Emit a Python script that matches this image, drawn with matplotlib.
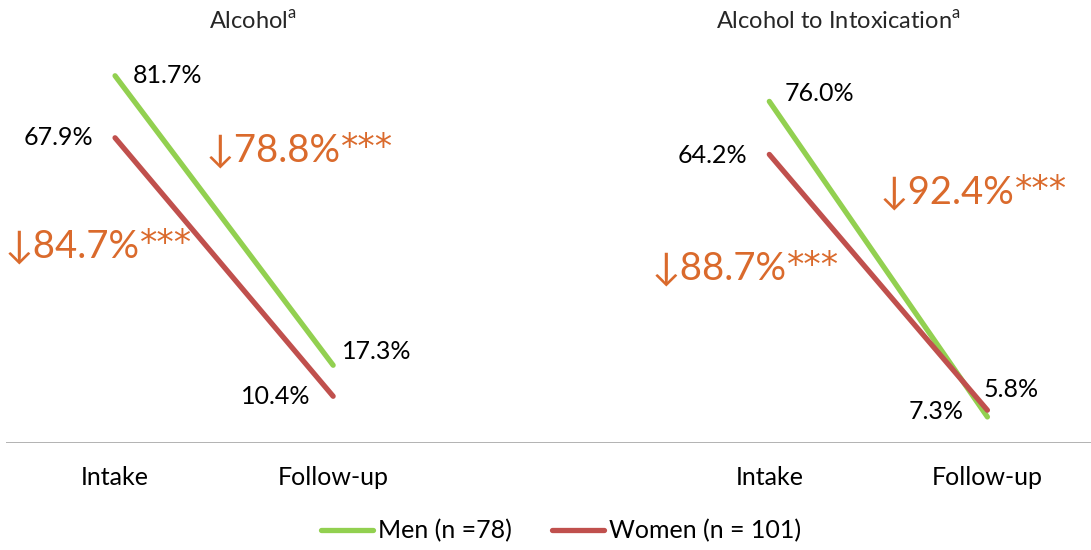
import matplotlib
matplotlib.use("Agg")
import matplotlib.pyplot as plt
from matplotlib.lines import Line2D

# ---- data ----
panels = ["Alcohol", "Alcohol to Intoxication"]
timepoints = ["Intake", "Follow-up"]
men_alcohol = [81.7, 17.3]
women_alcohol = [67.9, 10.4]
men_intox = [76.0, 5.8]
women_intox = [64.2, 7.3]
decrease_men = ["78.8%", "92.4%"]
decrease_women = ["84.7%", "88.7%"]
significance = "***"
legend_labels = ["Men (n =78)", "Women (n = 101)"]

GREEN = "#92D050"
RED = "#C0504D"
ORANGE = "#DA6A2C"
FONT = ["Lato", "DejaVu Sans"]
plt.rcParams["font.family"] = FONT

W, H = 1091, 550
fig = plt.figure(figsize=(W / 100, H / 100), dpi=100)
ax = fig.add_axes([6 / W, 107 / H, 1 - 6 / W, (443 - 16) / H])
ax.set_xlim(-0.5, 4.475)
ax.set_ylim(0, 95)
ax.axis("off")

def fx(px):
    return px / W

def fy(py):
    return 1 - py / H

xpos = [[0, 1], [3, 4]]
series = [(men_alcohol, women_alcohol), (men_intox, women_intox)]
for (men, women), xs in zip(series, xpos):
    ax.plot(xs, men, color=GREEN, lw=3.8, solid_capstyle="round", zorder=3)
    ax.plot(xs, women, color=RED, lw=3.8, solid_capstyle="round", zorder=3)

# baseline
ax.axhline(0, color="#A6A6A6", lw=1.2, zorder=1)

lab_fs = 18
def vlabel(x, y, txt, dx, dy, ha):
    ax.annotate(txt, (x, y), xytext=(dx, dy), textcoords="offset points",
                ha=ha, va="center", fontsize=lab_fs, color="black")

# left panel value labels
vlabel(0, men_alcohol[0], f"{men_alcohol[0]:.1f}%", 13, 0, "left")
vlabel(0, women_alcohol[0], f"{women_alcohol[0]:.1f}%", -16, 0, "right")
vlabel(1, men_alcohol[1], f"{men_alcohol[1]:.1f}%", 6, 10, "left")
vlabel(1, women_alcohol[1], f"{women_alcohol[1]:.1f}%", -16, 0, "right")
# right panel value labels
vlabel(3, men_intox[0], f"{men_intox[0]:.1f}%", 11, 6, "left")
vlabel(3, women_intox[0], f"{women_intox[0]:.1f}%", -16, -1, "right")
vlabel(4, men_intox[1], f"{men_intox[1]:.1f}%", -3, 20, "left")
vlabel(4, women_intox[1], f"{women_intox[1]:.1f}%", -17, -1, "right")

# decrease annotations
dec_fs = 27.5
renderer = fig.canvas.get_renderer()
def decrease(px, py, value):
    t = fig.text(fx(px), fy(py), "\u2193" + value, fontsize=dec_fs,
                 color=ORANGE, ha="left", va="center", family=FONT)
    bb = t.get_window_extent(renderer)
    fig.text(bb.x1 / W, fy(py) + 2 / H, significance, fontsize=25,
             color=ORANGE, ha="left", va="center", family=["DejaVu Sans"])

decrease(206, 150, decrease_men[0])
decrease(5, 246, decrease_women[0])
decrease(880, 192, decrease_men[1])
decrease(652, 268, decrease_women[1])

# titles
title_pos = [(209, 22), (716, 22)]
for (px, py), t in zip(title_pos, panels):
    fig.text(fx(px), fy(py), t + r"$^{\mathregular{a}}$", fontsize=17,
             color="#262626", ha="left", va="center")

# category labels
for xs in xpos:
    for x, t in zip(xs, timepoints):
        ax.annotate(t, (x, 0), xytext=(0, -25), textcoords="offset points",
                    ha="center", va="center", fontsize=18, color="black")

# legend
handles = [Line2D([], [], color=GREEN, lw=3.8, solid_capstyle="round"),
           Line2D([], [], color=RED, lw=3.8, solid_capstyle="round")]
fig.legend(handles, legend_labels, loc="center", bbox_to_anchor=(fx(561), fy(531)),
           ncol=2, frameon=False, fontsize=18, handlelength=2.1,
           handletextpad=0.2, columnspacing=1.6)

fig.savefig("out.png", dpi=100)
